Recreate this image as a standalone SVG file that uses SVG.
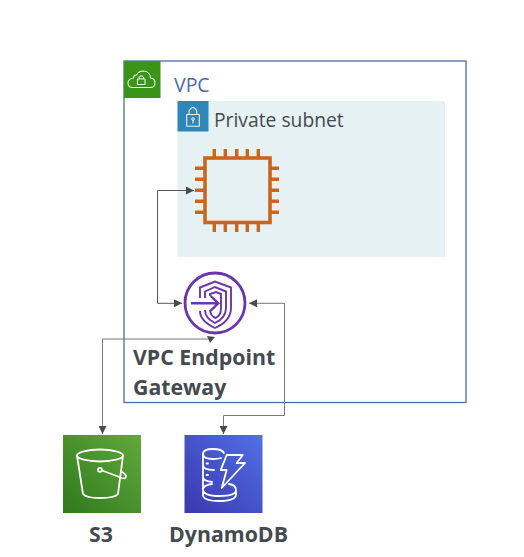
<svg xmlns="http://www.w3.org/2000/svg" width="524" height="557" viewBox="0 0 524 557">
<style>
text{font-family:"Open Sans","Noto Sans",sans-serif;fill:#454a4f}
.b{font-weight:700;font-size:21.300px}
.w{fill:none;stroke:#fff;stroke-width:1.800;stroke-linejoin:round;stroke-linecap:round}
.t{fill:none;stroke:#e8f3e4;stroke-width:1.100;stroke-linejoin:round;stroke-linecap:round}
.c{fill:none;stroke:#555;stroke-width:1}
.pin{fill:none;stroke:#c9651f;stroke-width:3.400}
.v{fill:none;stroke:#6b35b0;stroke-width:1.900;stroke-linejoin:miter}
</style>
<defs>
<linearGradient id="gs" x1="0" y1="1" x2="1" y2="0"><stop offset="0" stop-color="#2f7a1e"/><stop offset="1" stop-color="#62a83a"/></linearGradient>
<linearGradient id="gd" x1="0" y1="1" x2="1" y2="0"><stop offset="0" stop-color="#3a37ae"/><stop offset="1" stop-color="#5170e4"/></linearGradient>
<marker id="a" markerWidth="9" markerHeight="8" refX="8" refY="4" orient="auto-start-reverse" markerUnits="userSpaceOnUse"><path d="M0 0L8 4L0 8Z" fill="#4a4a4a"/></marker>
</defs>
<rect width="524" height="557" fill="#fff"/>
<g id="vpc">
<rect x="124" y="61" width="342" height="341.500" fill="#fff" stroke="#4a6da7" stroke-width="1.300"/>
<rect x="124" y="61" width="36.500" height="37" fill="#3a9418"/>
<path class="t" d="M132.500 87.500H150.500Q155 87.500 155 82.500Q155 78.500 150.500 78Q150 71.500 143.500 71Q138.500 71 136.500 75Q134 74.500 133.500 78Q128 79 128 83Q128 87.500 132.500 87.500Z"/>
<path class="t" d="M137.500 79H145V84.500H137.500ZM139 79V77.500Q141.300 74 143.500 77.500V79"/>
<text x="174" y="92" font-size="19.500" style="fill:#4a6cab">VPC</text>
</g>
<g id="subnet">
<rect x="177.500" y="101" width="267.500" height="156" fill="#e6f1f4"/>
<rect x="177.500" y="101" width="31" height="30.500" fill="#2f86b8"/>
<path class="t" d="M186.700 114.500H199.300V126.300H186.700ZM189 114.500V111Q192.900 104 196.800 111V114.500"/>
<circle cx="193" cy="119" r="1.300" fill="none" stroke="#e8f3e4"/>
<path class="t" d="M193 120.300V123"/>
<text x="214" y="127" font-size="19.300">Private subnet</text>
</g>
<g id="instance">
<rect x="205" y="158" width="65" height="64.500" fill="none" stroke="#c9651f" stroke-width="3.600"/>
<path class="pin" d="M214.300 149V158M225.300 149V158M236.700 149V158M247.300 149V158M258.300 149V158M214.300 222V232M225.300 222V232M236.700 222V232M247.300 222V232M258.300 222V232M195 168.300H205M195 179.300H205M195 190.300H205M195 201.300H205M195 212.300H205M270 168.300H279M270 179.300H279M270 190.300H279M270 201.300H279M270 212.300H279"/>
</g>
<g id="gateway">
<circle cx="215" cy="303" r="30" fill="#fff" stroke="#6b35b0" stroke-width="2.800"/>
<path class="v" d="M200 298V287.500L215 281.500L231 287.500V308Q231 321 215 328Q200 321 200 311"/>
<path class="v" d="M205 298V291.500L215 287L226 291.500V308Q226 318 215 323Q205 318 205 310"/>
<path class="v" d="M210 296V294L216 292L221 294V308Q221 316 215.500 318Q210.500 316 210 310"/>
<path fill="none" stroke="#6b35b0" stroke-width="2.400" d="M191 303.300H218M210.700 296L218.300 303.300L210.700 310.700"/>
<text class="b" x="133" y="365">VPC Endpoint</text>
<text class="b" x="133" y="395">Gateway</text>
</g>
<g id="s3">
<rect x="63" y="435" width="78" height="78" fill="url(#gs)"/>
<ellipse cx="100" cy="455.500" rx="23" ry="6" class="w"/>
<path class="w" d="M77 455.500L83 494Q86 498 100 498Q115 498 118 494L123 455.500"/>
<circle cx="100" cy="469.800" r="2" class="w"/>
<path class="w" d="M102 470.500L122 478Q126 479 126 476.500Q126 474 122 472"/>
<text class="b" x="101" y="542" text-anchor="middle">S3</text>
</g>
<g id="dynamodb">
<rect x="184.500" y="435" width="78" height="78" fill="url(#gd)"/>
<path class="w" d="M224 453Q222 449 213 449Q203 449 203 454Q203 459 213 459Q218 459 221 458"/>
<path class="w" d="M203 454V465Q203 470 214 470M203 465V477Q203 481 212 482M203 477V489"/>
<path class="w" d="M203 489Q204 485 212 484M229 484Q236 485 236 490Q236 496 219 496Q204 496 203 490V496Q205 501 219 501Q235 501 236 495V490"/>
<path class="w" d="M206.500 463.500H208M206.500 475H208"/>
<path class="w" d="M226.700 470H220.700L226.700 455H242.700L236.700 463H245L221.700 488Z"/>
<text class="b" x="228.500" y="542" text-anchor="middle">DynamoDB</text>
</g>
<g id="connectors">
<path class="c" marker-start="url(#a)" marker-end="url(#a)" d="M182 303.300H157.500V190.500H194"/>
<path class="c" style="stroke:#777" marker-end="url(#a)" d="M208 339H102.500V434"/>
<path d="M207 336L215 337L210 343Z" fill="#4a4a4a"/>
<path class="c" style="stroke:#777" marker-start="url(#a)" marker-end="url(#a)" d="M249 303.300H284.500V415.500H223.500V434"/>
</g>
</svg>
